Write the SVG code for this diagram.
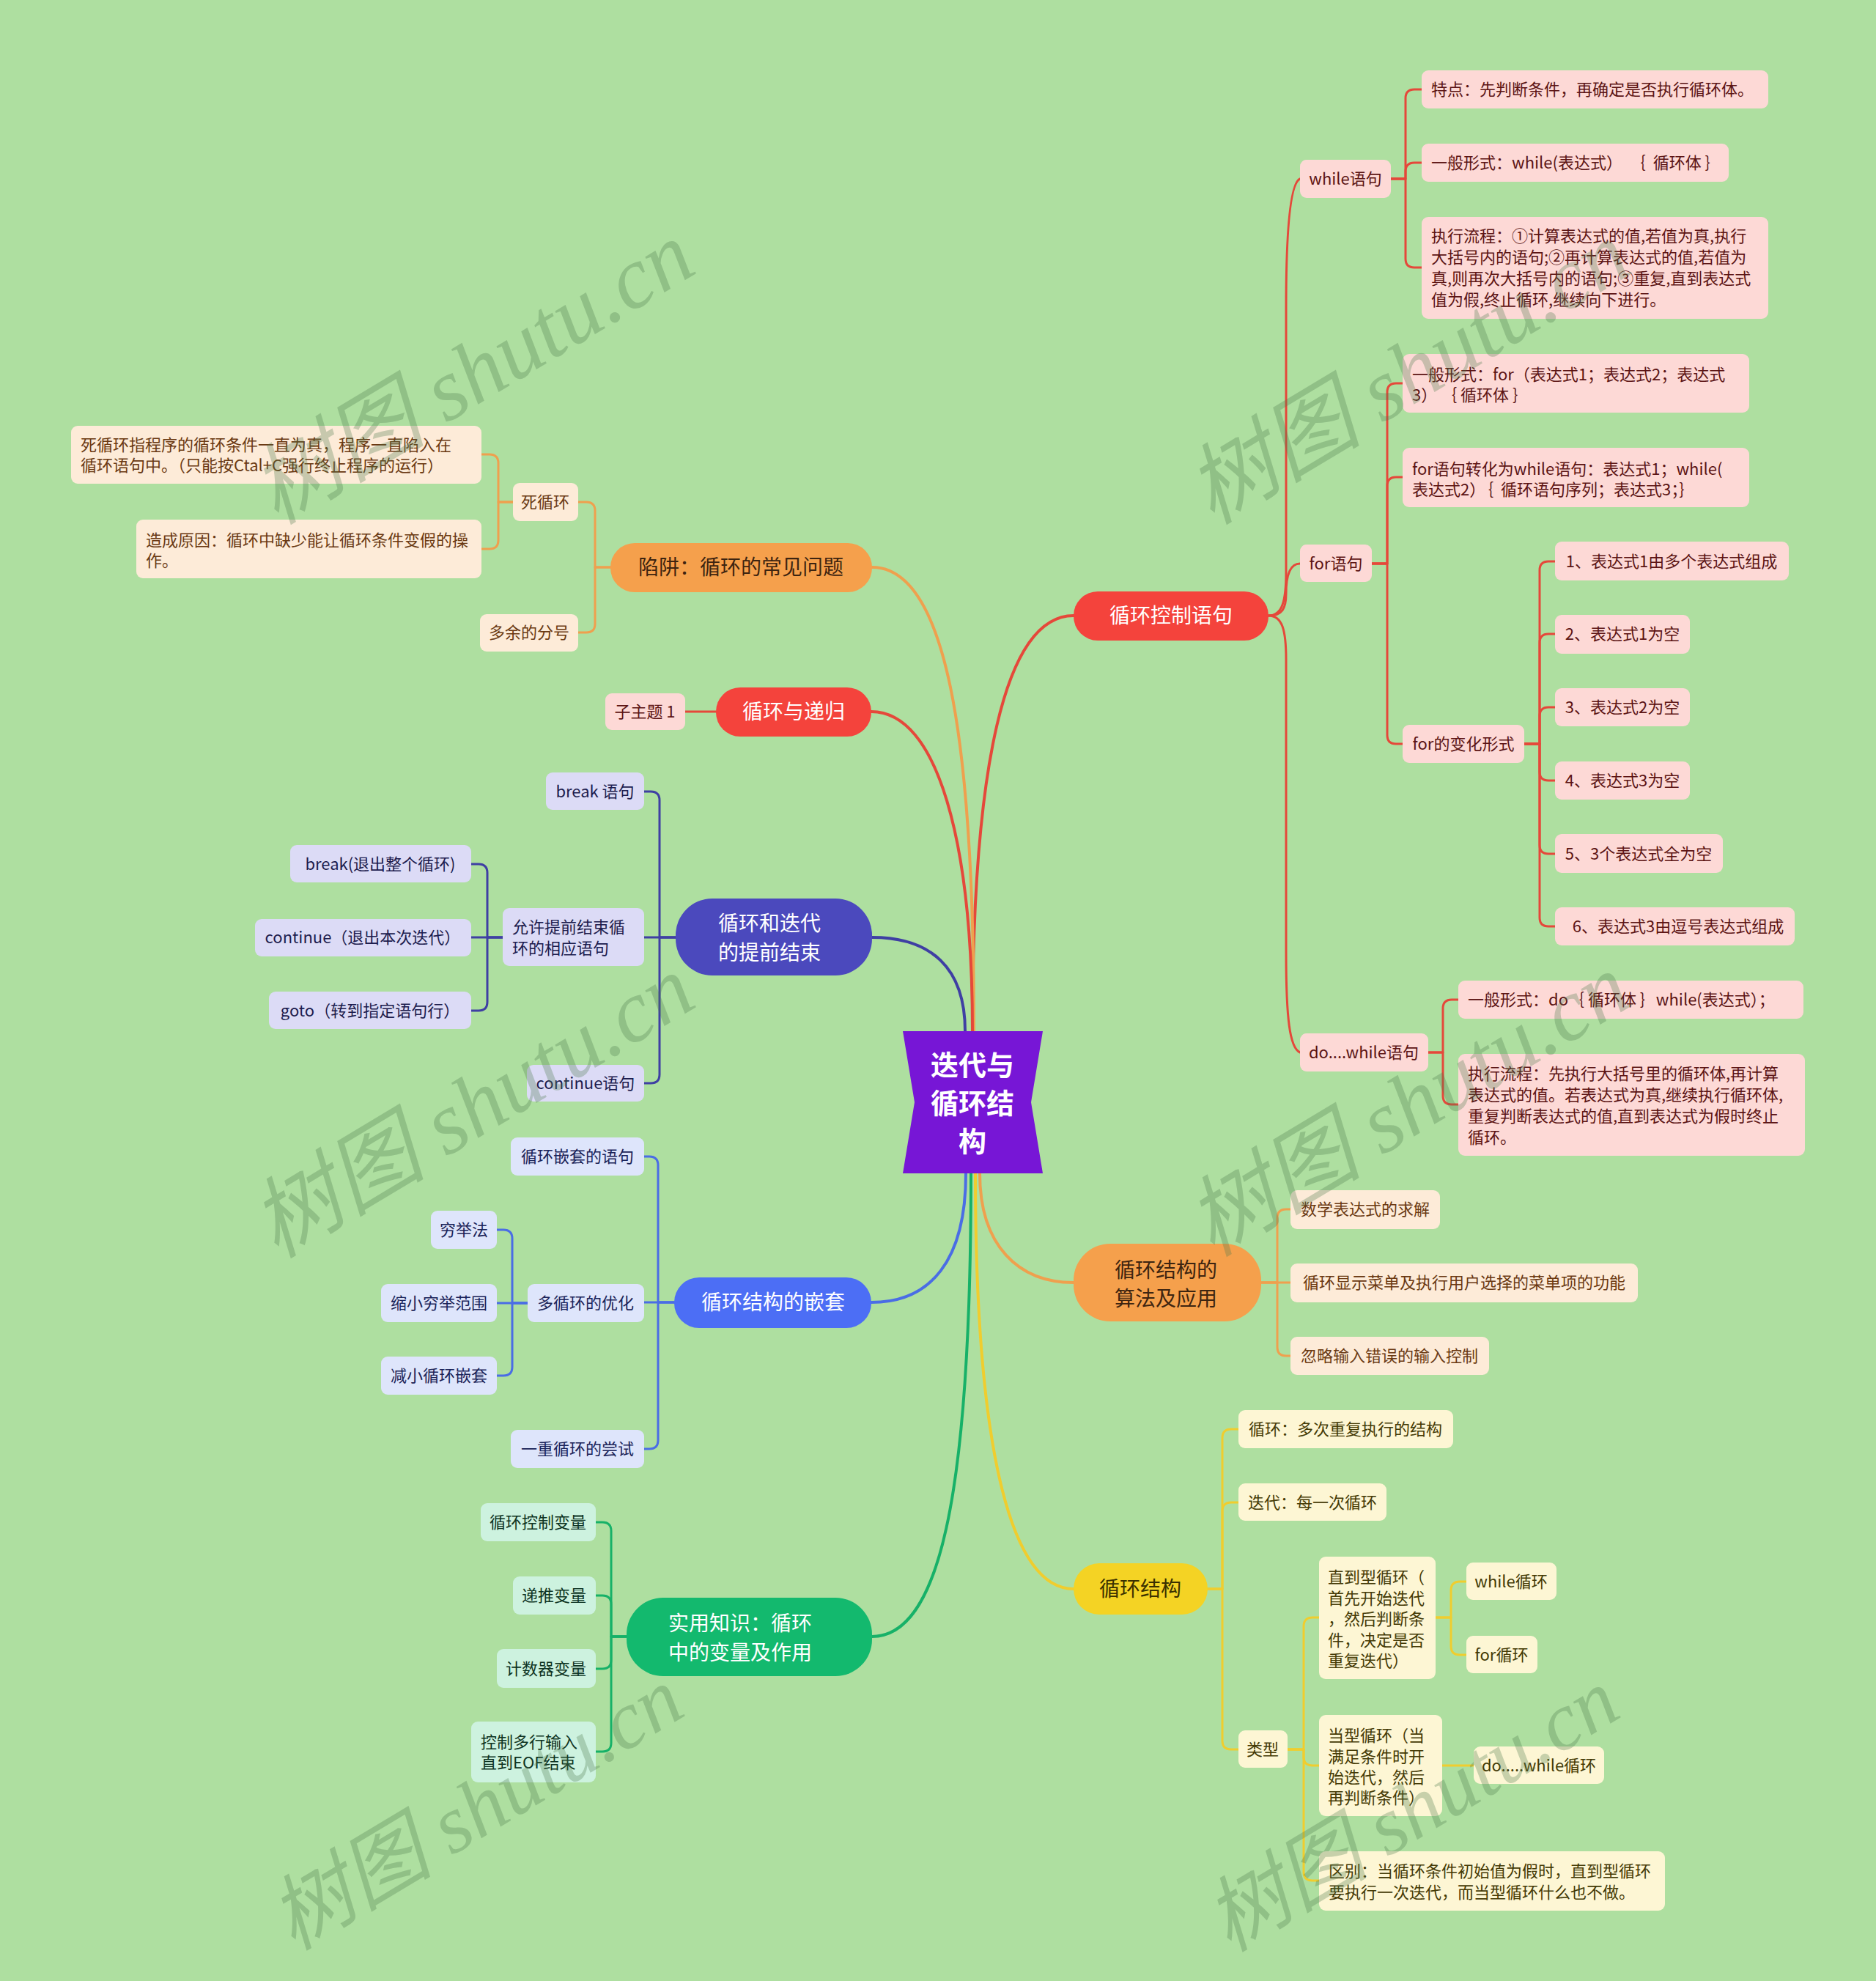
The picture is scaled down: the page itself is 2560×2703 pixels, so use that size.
<svg xmlns="http://www.w3.org/2000/svg" width="2560" height="2703" viewBox="0 0 2560 2703">
<style>
text{font-family:"Noto Sans CJK SC","Noto Sans",sans-serif;}
.s{font-size:22px;}
.m{font-size:28px;text-anchor:middle;}
.c{text-anchor:middle;}
.ln{fill:none;stroke-width:3;stroke-linecap:round;stroke-linejoin:round;}
.mln{fill:none;stroke-width:4;stroke-linecap:round;}
.lr{stroke:#E5483A;} .lo{stroke:#EFA04E;} .ln1{stroke:#3F3FA3;} .lb{stroke:#4A6DE5;} .lg{stroke:#17B168;} .ly{stroke:#F0CD2E;}
.br{fill:#FDD9D6;} .tr{fill:#5C1414;}
.bo{fill:#FDEBD8;} .to{fill:#6A3912;}
.bn{fill:#DCDBF6;} .tn{fill:#1C1C4E;}
.bb{fill:#DEE5FB;} .tb{fill:#1A2358;}
.bg{fill:#CDF2DF;} .tg{fill:#0D3322;}
.by{fill:#FDF6D4;} .ty{fill:#443A05;}
.wm{font-family:"Liberation Serif","Noto Sans CJK SC",serif;font-style:italic;font-size:120px;fill:#4d7a4d;opacity:0.3;text-anchor:middle;dominant-baseline:central;}
</style>
<rect x="0" y="0" width="2560" height="2703" fill="#AEDFA0"/>

<g id="connectors">
<path class="mln lr" d="M1327,1407 C1327,1050 1370,840 1465,840"/>
<path class="mln lo" d="M1190,774 C1290,774 1329,1000 1329,1407"/>
<path class="mln lr" d="M1189,971 C1280,971 1327,1150 1327,1407"/>
<path class="mln ln1" d="M1190,1279 C1270,1279 1317,1320 1317,1407"/>
<path class="mln lb" d="M1318,1601 C1318,1720 1270,1777 1189,1777"/>
<path class="mln lg" d="M1325,1601 C1325,2050 1280,2233 1190,2233"/>
<path class="mln ly" d="M1331,1601 C1331,1980 1380,2168 1465,2168"/>
<path class="mln lo" d="M1337,1601 C1337,1700 1390,1750 1465,1750"/>
<path class="ln lr" d="M1731,840 C1750,840 1755,820 1755,780 L1755,420 C1755,320 1760,250 1774,244"/>
<path class="ln lr" d="M1731,840 C1750,840 1755,830 1755,810 C1755,785 1760,769 1774,769"/>
<path class="ln lr" d="M1731,840 C1750,840 1755,860 1755,900 L1755,1300 C1755,1390 1760,1430 1774,1436"/>
<path class="ln lr" d="M1898,244 H1918 V134 Q1918,122 1930,122 H1940"/>
<path class="ln lr" d="M1898,244 H1918 V234 Q1918,222 1930,222 H1940"/>
<path class="ln lr" d="M1898,244 H1918 V353 Q1918,365 1930,365 H1940"/>
<path class="ln lr" d="M1872,769 H1893 V535 Q1893,523 1905,523 H1914"/>
<path class="ln lr" d="M1872,769 H1893 V663 Q1893,651 1905,651 H1914"/>
<path class="ln lr" d="M1872,769 H1893 V1003 Q1893,1015 1905,1015 H1914"/>
<path class="ln lr" d="M2080,1015 H2101 V778 Q2101,766 2113,766 H2122"/>
<path class="ln lr" d="M2080,1015 H2101 V877 Q2101,865 2113,865 H2122"/>
<path class="ln lr" d="M2080,1015 H2101 V977 Q2101,965 2113,965 H2122"/>
<path class="ln lr" d="M2080,1015 H2101 V1053 Q2101,1065 2113,1065 H2122"/>
<path class="ln lr" d="M2080,1015 H2101 V1153 Q2101,1165 2113,1165 H2122"/>
<path class="ln lr" d="M2080,1015 H2101 V1252 Q2101,1264 2113,1264 H2122"/>
<path class="ln lr" d="M1949,1436 H1969 V1376 Q1969,1364 1981,1364 H1990"/>
<path class="ln lr" d="M1949,1436 H1969 V1495 Q1969,1507 1981,1507 H1990"/>
<path class="ln lo" d="M1721,1750 H1743 V1662 Q1743,1650 1755,1650 H1761"/>
<path class="ln lo" d="M1721,1750 H1761"/>
<path class="ln lo" d="M1721,1750 H1743 V1838 Q1743,1850 1755,1850 H1761"/>
<path class="ln ly" d="M1648,2168 H1668 V1962 Q1668,1950 1680,1950 H1690"/>
<path class="ln ly" d="M1648,2168 H1668 V2062 Q1668,2050 1680,2050 H1690"/>
<path class="ln ly" d="M1648,2168 H1668 V2375 Q1668,2387 1680,2387 H1690"/>
<path class="ln ly" d="M1757,2387 H1779 V2219 Q1779,2207 1791,2207 H1800"/>
<path class="ln ly" d="M1757,2387 H1779 V2397 Q1779,2409 1791,2409 H1800"/>
<path class="ln ly" d="M1757,2387 H1779 V2554 Q1779,2566 1791,2566 H1800"/>
<path class="ln ly" d="M1959,2207 H1980 V2170 Q1980,2158 1992,2158 H2001"/>
<path class="ln ly" d="M1959,2207 H1980 V2246 Q1980,2258 1992,2258 H2001"/>
<path class="ln ly" d="M1968,2409 H2011"/>
<path class="ln lo" d="M833,774 H812 V697 Q812,685 800,685 H789"/>
<path class="ln lo" d="M833,774 H812 V851 Q812,863 800,863 H789"/>
<path class="ln lo" d="M700,685 H680 V632 Q680,620 668,620 H657"/>
<path class="ln lo" d="M700,685 H680 V737 Q680,749 668,749 H657"/>
<path class="ln lr" d="M977,971 H935"/>
<path class="ln ln1" d="M922,1279 H900 V1092 Q900,1080 888,1080 H879"/>
<path class="ln ln1" d="M922,1279 H879"/>
<path class="ln ln1" d="M922,1279 H900 V1466 Q900,1478 888,1478 H879"/>
<path class="ln ln1" d="M686,1279 H665 V1191 Q665,1179 653,1179 H643"/>
<path class="ln ln1" d="M686,1279 H643"/>
<path class="ln ln1" d="M686,1279 H665 V1367 Q665,1379 653,1379 H643"/>
<path class="ln lb" d="M920,1777 H898 V1590 Q898,1578 886,1578 H879"/>
<path class="ln lb" d="M920,1777 H879"/>
<path class="ln lb" d="M920,1777 H898 V1965 Q898,1977 886,1977 H879"/>
<path class="ln lb" d="M720,1778 H699 V1690 Q699,1678 687,1678 H678"/>
<path class="ln lb" d="M720,1778 H678"/>
<path class="ln lb" d="M720,1778 H699 V1865 Q699,1877 687,1877 H678"/>
<path class="ln lg" d="M855,2233 H834 V2089 Q834,2077 822,2077 H813"/>
<path class="ln lg" d="M855,2233 H834 V2189 Q834,2177 822,2177 H813"/>
<path class="ln lg" d="M855,2233 H834 V2265 Q834,2277 822,2277 H813"/>
<path class="ln lg" d="M855,2233 H834 V2378 Q834,2390 822,2390 H813"/>
</g>

<g id="center">
<path d="M1232,1407 L1423,1407 L1407,1504 L1423,1601 L1232,1601 L1248,1504 Z" fill="#7716D6"/>
<text x="1327" y="1467" class="c" style="font-size:38px;font-weight:700" fill="#FFFFFF">迭代与</text>
<text x="1327" y="1519" class="c" style="font-size:38px;font-weight:700" fill="#FFFFFF">循环结</text>
<text x="1327" y="1571" class="c" style="font-size:38px;font-weight:700" fill="#FFFFFF">构</text>
</g>

<g id="n-control"><rect x="1465" y="807" width="266" height="67" rx="33" fill="#F4433C"/><text x="1598" y="850" class="m" fill="#FFFFFF">循环控制语句</text></g>
<g id="n-recursion"><rect x="977" y="938" width="212" height="67" rx="33" fill="#F4433C"/><text x="1083" y="981" class="m" fill="#FFFFFF">循环与递归</text></g>
<g id="n-trap"><rect x="833" y="741" width="357" height="67" rx="33" fill="#F5A04C"/><text x="1011" y="784" class="m" fill="#3D2410">陷阱：循环的常见问题</text></g>
<g id="n-early"><rect x="922" y="1226" width="268" height="105" rx="50" fill="#4B49BD"/><text x="1050" y="1270" class="m" fill="#FFFFFF">循环和迭代</text><text x="1050" y="1310" class="m" fill="#FFFFFF">的提前结束</text></g>
<g id="n-nest"><rect x="920" y="1743" width="269" height="69" rx="34" fill="#4C6EF5"/><text x="1055" y="1787" class="m" fill="#FFFFFF">循环结构的嵌套</text></g>
<g id="n-vars"><rect x="855" y="2180" width="335" height="107" rx="50" fill="#13B96E"/><text x="1010" y="2225" class="m" fill="#FFFFFF">实用知识：循环</text><text x="1010" y="2265" class="m" fill="#FFFFFF">中的变量及作用</text></g>
<g id="n-algo"><rect x="1465" y="1697" width="256" height="106" rx="50" fill="#F5A04C"/><text x="1591" y="1743" class="m" fill="#3D2410">循环结构的</text><text x="1591" y="1782" class="m" fill="#3D2410">算法及应用</text></g>
<g id="n-struct"><rect x="1465" y="2133" width="183" height="70" rx="35" fill="#F4D324"/><text x="1556" y="2178" class="m" fill="#3A3000">循环结构</text></g>

<g id="n-while"><rect class="br" x="1774" y="218" width="124" height="52" rx="9"/><text class="s c tr" x="1836" y="252">while语句</text></g>
<g id="n-while1"><rect class="br" x="1940" y="96" width="473" height="52" rx="9"/><text class="s tr" x="1953" y="130">特点：先判断条件，再确定是否执行循环体。</text></g>
<g id="n-while2"><rect class="br" x="1940" y="196" width="419" height="52" rx="9"/><text class="s tr" x="1953" y="230" xml:space="preserve">一般形式：while(表达式）  ｛  循环体 ｝</text></g>
<g id="n-while3"><rect class="br" x="1940" y="296" width="473" height="139" rx="9"/>
<text class="s tr" x="1953" y="330">执行流程：①计算表达式的值,若值为真,执行</text>
<text class="s tr" x="1953" y="359">大括号内的语句;②再计算表达式的值,若值为</text>
<text class="s tr" x="1953" y="388">真,则再次大括号内的语句;③重复,直到表达式</text>
<text class="s tr" x="1953" y="417">值为假,终止循环,继续向下进行。</text></g>
<g id="n-for"><rect class="br" x="1774" y="743" width="98" height="51" rx="9"/><text class="s c tr" x="1823" y="777">for语句</text></g>
<g id="n-for1"><rect class="br" x="1914" y="483" width="473" height="80" rx="9"/>
<text class="s tr" x="1927" y="519">一般形式：for（表达式1；表达式2；表达式</text>
<text class="s tr" x="1927" y="547" xml:space="preserve">3） ｛ 循环体 ｝</text></g>
<g id="n-for2"><rect class="br" x="1914" y="611" width="473" height="81" rx="9"/>
<text class="s tr" x="1927" y="648">for语句转化为while语句：表达式1；while(</text>
<text class="s tr" x="1927" y="676" xml:space="preserve">表达式2）｛  循环语句序列；表达式3；｝</text></g>
<g id="n-forvar"><rect class="br" x="1914" y="989" width="166" height="52" rx="9"/><text class="s c tr" x="1997" y="1023">for的变化形式</text></g>
<g id="n-fv1"><rect class="br" x="2122" y="739" width="319" height="53" rx="9"/><text class="s c tr" x="2281" y="774">1、表达式1由多个表达式组成</text></g>
<g id="n-fv2"><rect class="br" x="2122" y="839" width="184" height="53" rx="9"/><text class="s c tr" x="2214" y="873">2、表达式1为空</text></g>
<g id="n-fv3"><rect class="br" x="2122" y="939" width="184" height="52" rx="9"/><text class="s c tr" x="2214" y="973">3、表达式2为空</text></g>
<g id="n-fv4"><rect class="br" x="2122" y="1039" width="184" height="52" rx="9"/><text class="s c tr" x="2214" y="1073">4、表达式3为空</text></g>
<g id="n-fv5"><rect class="br" x="2122" y="1138" width="229" height="53" rx="9"/><text class="s c tr" x="2236" y="1173">5、3个表达式全为空</text></g>
<g id="n-fv6"><rect class="br" x="2122" y="1238" width="327" height="52" rx="9"/><text class="s c tr" x="2290" y="1272">6、表达式3由逗号表达式组成</text></g>
<g id="n-dowhile"><rect class="br" x="1774" y="1410" width="175" height="52" rx="9"/><text class="s c tr" x="1861" y="1444">do....while语句</text></g>
<g id="n-do1"><rect class="br" x="1990" y="1338" width="471" height="52" rx="9"/><text class="s tr" x="2003" y="1372" xml:space="preserve">一般形式：do｛ 循环体 ｝while(表达式）；</text></g>
<g id="n-do2"><rect class="br" x="1990" y="1438" width="473" height="139" rx="9"/>
<text class="s tr" x="2003" y="1473">执行流程：先执行大括号里的循环体,再计算</text>
<text class="s tr" x="2003" y="1502">表达式的值。若表达式为真,继续执行循环体,</text>
<text class="s tr" x="2003" y="1531">重复判断表达式的值,直到表达式为假时终止</text>
<text class="s tr" x="2003" y="1560">循环。</text></g>
<g id="n-sub1"><rect class="br" x="826" y="946" width="109" height="50" rx="9"/><text class="s c tr" x="880" y="979">子主题 1</text></g>

<g id="n-dead"><rect class="bo" x="700" y="659" width="89" height="52" rx="9"/><text class="s c to" x="744" y="693">死循环</text></g>
<g id="n-semi"><rect class="bo" x="655" y="838" width="134" height="51" rx="9"/><text class="s c to" x="722" y="871">多余的分号</text></g>
<g id="n-dead1"><rect class="bo" x="97" y="581" width="560" height="79" rx="9"/>
<text class="s to" x="110" y="615">死循环指程序的循环条件一直为真，程序一直陷入在</text>
<text class="s to" x="110" y="643">循环语句中。（只能按Ctal+C强行终止程序的运行）</text></g>
<g id="n-dead2"><rect class="bo" x="186" y="709" width="471" height="80" rx="9"/>
<text class="s to" x="199" y="745">造成原因：循环中缺少能让循环条件变假的操</text>
<text class="s to" x="199" y="773">作。</text></g>

<g id="n-break"><rect class="bn" x="745" y="1054" width="134" height="51" rx="9"/><text class="s c tn" x="812" y="1088">break 语句</text></g>
<g id="n-allow"><rect class="bn" x="686" y="1239" width="193" height="79" rx="9"/>
<text class="s tn" x="699" y="1273">允许提前结束循</text>
<text class="s tn" x="699" y="1302">环的相应语句</text></g>
<g id="n-a1"><rect class="bn" x="396" y="1153" width="247" height="51" rx="9"/><text class="s c tn" x="519" y="1187">break(退出整个循环)</text></g>
<g id="n-a2"><rect class="bn" x="348" y="1254" width="295" height="51" rx="9"/><text class="s c tn" x="495" y="1287">continue（退出本次迭代）</text></g>
<g id="n-a3"><rect class="bn" x="367" y="1353" width="276" height="51" rx="9"/><text class="s c tn" x="505" y="1387">goto（转到指定语句行）</text></g>
<g id="n-cont"><rect class="bn" x="719" y="1453" width="160" height="50" rx="9"/><text class="s c tn" x="799" y="1486">continue语句</text></g>

<g id="n-nest1"><rect class="bb" x="697" y="1552" width="182" height="52" rx="9"/><text class="s c tb" x="788" y="1586">循环嵌套的语句</text></g>
<g id="n-opt"><rect class="bb" x="720" y="1752" width="159" height="52" rx="9"/><text class="s c tb" x="799" y="1786">多循环的优化</text></g>
<g id="n-o1"><rect class="bb" x="588" y="1652" width="90" height="52" rx="9"/><text class="s c tb" x="633" y="1686">穷举法</text></g>
<g id="n-o2"><rect class="bb" x="520" y="1752" width="158" height="52" rx="9"/><text class="s c tb" x="599" y="1786">缩小穷举范围</text></g>
<g id="n-o3"><rect class="bb" x="520" y="1851" width="158" height="52" rx="9"/><text class="s c tb" x="599" y="1885">减小循环嵌套</text></g>
<g id="n-nest2"><rect class="bb" x="697" y="1951" width="182" height="52" rx="9"/><text class="s c tb" x="788" y="1985">一重循环的尝试</text></g>

<g id="n-v1"><rect class="bg" x="656" y="2051" width="157" height="52" rx="9"/><text class="s c tg" x="734" y="2085">循环控制变量</text></g>
<g id="n-v2"><rect class="bg" x="700" y="2151" width="113" height="52" rx="9"/><text class="s c tg" x="756" y="2185">递推变量</text></g>
<g id="n-v3"><rect class="bg" x="678" y="2250" width="135" height="53" rx="9"/><text class="s c tg" x="745" y="2285">计数器变量</text></g>
<g id="n-v4"><rect class="bg" x="643" y="2349" width="170" height="83" rx="9"/>
<text class="s tg" x="656" y="2385">控制多行输入</text>
<text class="s tg" x="656" y="2413">直到EOF结束</text></g>

<g id="n-al1"><rect class="bo" x="1761" y="1624" width="204" height="53" rx="9"/><text class="s c to" x="1863" y="1658">数学表达式的求解</text></g>
<g id="n-al2"><rect class="bo" x="1761" y="1724" width="474" height="53" rx="9"/><text class="s c to" x="1998" y="1758">循环显示菜单及执行用户选择的菜单项的功能</text></g>
<g id="n-al3"><rect class="bo" x="1761" y="1824" width="271" height="52" rx="9"/><text class="s c to" x="1896" y="1858">忽略输入错误的输入控制</text></g>

<g id="n-s1"><rect class="by" x="1690" y="1924" width="293" height="52" rx="9"/><text class="s c ty" x="1836" y="1958">循环：多次重复执行的结构</text></g>
<g id="n-s2"><rect class="by" x="1690" y="2024" width="202" height="51" rx="9"/><text class="s c ty" x="1791" y="2058">迭代：每一次循环</text></g>
<g id="n-type"><rect class="by" x="1690" y="2361" width="67" height="51" rx="9"/><text class="s c ty" x="1723" y="2395">类型</text></g>
<g id="n-until"><rect class="by" x="1800" y="2124" width="159" height="167" rx="9"/>
<text class="s ty" x="1812" y="2160">直到型循环（</text>
<text class="s ty" x="1812" y="2189">首先开始迭代</text>
<text class="s ty" x="1812" y="2217">，然后判断条</text>
<text class="s ty" x="1812" y="2246">件，决定是否</text>
<text class="s ty" x="1812" y="2274">重复迭代）</text></g>
<g id="n-wl"><rect class="by" x="2001" y="2132" width="123" height="51" rx="9"/><text class="s c ty" x="2062" y="2166">while循环</text></g>
<g id="n-fl"><rect class="by" x="2001" y="2232" width="97" height="51" rx="9"/><text class="s c ty" x="2049" y="2266">for循环</text></g>
<g id="n-when"><rect class="by" x="1800" y="2340" width="168" height="138" rx="9"/>
<text class="s ty" x="1812" y="2376">当型循环（当</text>
<text class="s ty" x="1812" y="2405">满足条件时开</text>
<text class="s ty" x="1812" y="2433">始迭代，然后</text>
<text class="s ty" x="1812" y="2461">再判断条件）</text></g>
<g id="n-dwl"><rect class="by" x="2011" y="2383" width="178" height="51" rx="9"/><text class="s c ty" x="2100" y="2417">do.....while循环</text></g>
<g id="n-diff"><rect class="by" x="1800" y="2526" width="472" height="81" rx="9"/>
<text class="s ty" x="1813" y="2561">区别：当循环条件初始值为假时，直到型循环</text>
<text class="s ty" x="1813" y="2590">要执行一次迭代，而当型循环什么也不做。</text></g>

<g id="watermark">
<text class="wm" transform="translate(645,509) rotate(-31)">树图 shutu.cn</text>
<text class="wm" transform="translate(1922,509) rotate(-31)">树图 shutu.cn</text>
<text class="wm" transform="translate(645,1510) rotate(-31)">树图 shutu.cn</text>
<text class="wm" transform="translate(1922,1508) rotate(-31)">树图 shutu.cn</text>
<text class="wm" style="font-size:112px" transform="translate(650,2468) rotate(-31)">树图 shutu.cn</text>
<text class="wm" style="font-size:112px" transform="translate(1927,2470) rotate(-31)">树图 shutu.cn</text>
</g>
</svg>
